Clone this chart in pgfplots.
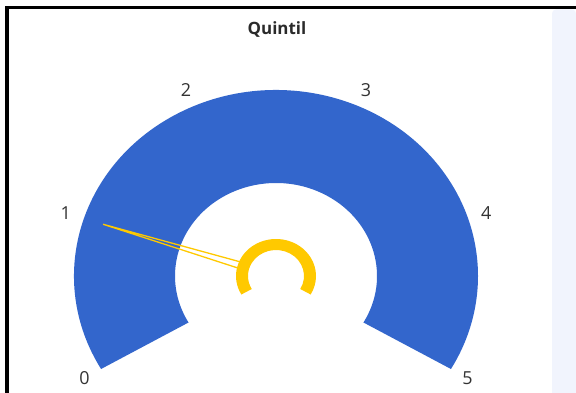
\documentclass[border=0pt]{standalone}
\usepackage{pgfplots}
\pgfplotsset{compat=1.18}
\usepackage{fontspec}
\setmainfont{Open Sans}
\definecolor{gblue}{HTML}{3366CC}
\definecolor{gyellow}{HTML}{FFC900}
\definecolor{panel}{HTML}{F1F4FD}
\definecolor{lbl}{HTML}{333333}
\definecolor{ttl}{HTML}{2A2A2A}
% gauge value (needle)
\def\gaugevalue{1}
\begin{document}
\begin{tikzpicture}
\pgfmathsetmacro\cx{276}
\pgfmathsetmacro\cy{117}
\pgfmathsetmacro\th{210-48*\gaugevalue}
\pgfmathsetmacro\dxn{202*cos(\th)}
\pgfmathsetmacro\dyn{186*sin(\th)}
\pgfmathsetmacro\L{veclen(\dxn,\dyn)}
\pgfmathsetmacro\px{-\dyn/\L}
\pgfmathsetmacro\py{\dxn/\L}
\pgfmathsetmacro\tipx{\cx+0.9*\dxn}
\pgfmathsetmacro\tipy{\cy+0.9*\dyn}
\pgfmathsetmacro\bax{\cx+0.19*\dxn+3.3*\px}
\pgfmathsetmacro\bay{\cy+0.19*\dyn+3.3*\py}
\pgfmathsetmacro\bbx{\cx+0.19*\dxn-3.3*\px}
\pgfmathsetmacro\bby{\cy+0.19*\dyn-3.3*\py}
\begin{axis}[
  width=576bp, height=393bp, scale only axis,
  xmin=0, xmax=576, ymin=0, ymax=393,
  enlargelimits=false, hide axis, clip=false,
]
\addplot[fill=white, draw=none] coordinates {(0,0) (576,0) (576,393) (0,393)} -- cycle;
% side panel
\fill[panel] (axis cs:552,0) [rounded corners=4bp] -- (axis cs:552,383.5) -- (axis cs:576,383.5) [sharp corners] -- (axis cs:576,0) -- cycle;
% frame
\fill[black] (axis cs:5,383.5) rectangle (axis cs:576,387);
\fill[black] (axis cs:5,0) rectangle (axis cs:9,387);
% title
\node[anchor=base, text=ttl, font=\bfseries\fontsize{17}{20}\selectfont] at (axis cs:277,359) {Quintil};
% gauge band 0..5
\fill[gblue] ([shift={(210:202bp and 186bp)}]axis cs:276,117)
   arc[start angle=210, end angle=-30, x radius=202bp, y radius=186bp]
   -- ([shift={(-30:101bp and 93bp)}]axis cs:276,117)
   arc[start angle=-30, end angle=210, x radius=101bp, y radius=93bp] -- cycle;
% scale labels
\pgfplotsinvokeforeach{0,1,2,3,4,5}{
  \node[text=lbl, font=\fontsize{18}{21}\selectfont] at ([shift={({210-48*#1}:221bp and 204bp)}]axis cs:276,117) {#1};
}
% needle
\addplot[gyellow, line width=1.3bp, line join=miter] coordinates {(\bax,\bay) (\tipx,\tipy) (\bbx,\bby)};
% hub ring
\fill[gyellow] ([shift={(210:40bp and 37bp)}]axis cs:276,117)
   arc[start angle=210, end angle=-30, x radius=40bp, y radius=37bp]
   -- ([shift={(-30:28bp and 26bp)}]axis cs:276,117)
   arc[start angle=-30, end angle=210, x radius=28bp, y radius=26bp] -- cycle;
\end{axis}
\end{tikzpicture}
\end{document}
